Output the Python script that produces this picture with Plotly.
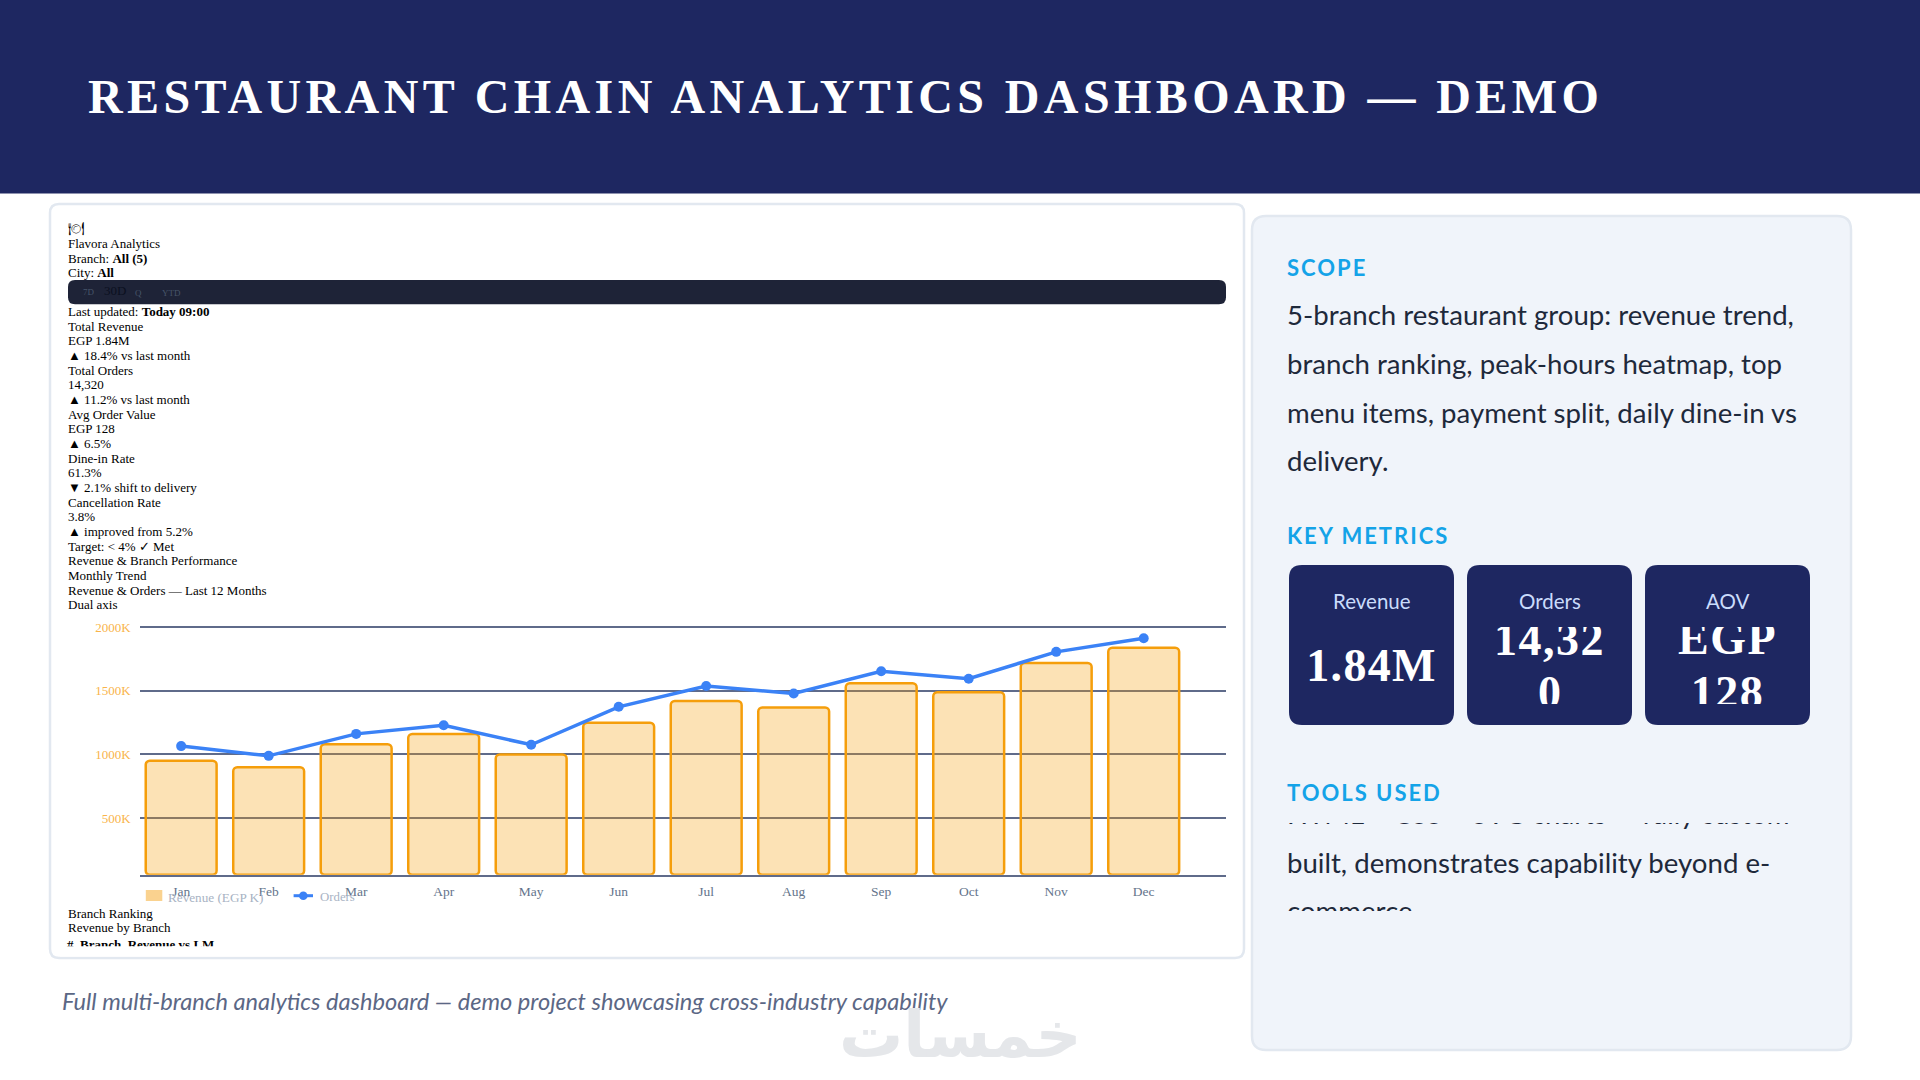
import plotly.graph_objects as go

# Data
months = ["Jan", "Feb", "Mar", "Apr", "May", "Jun", "Jul", "Aug", "Sep", "Oct", "Nov", "Dec"]
revenue_k = [950, 900, 1080, 1160, 1000, 1250, 1420, 1370, 1560, 1490, 1720, 1840]
orders = [7790, 7200, 8530, 9050, 7870, 10170, 11430, 10980, 12320, 11870, 13500, 14320]
revenue_ticks = [500, 1000, 1500, 2000]
revenue_tick_labels = ["500K", "1000K", "1500K", "2000K"]

title = "RESTAURANT CHAIN ANALYTICS DASHBOARD — DEMO"
caption = "Full multi-branch analytics dashboard — demo project showcasing cross-industry capability"
page_lines_top = ["🍽", "Flavora Analytics", "Branch: <b>All (5)</b>", "City: <b>All</b>"]
page_lines_mid = [
    "Last updated: <b>Today 09:00</b>", "Total Revenue", "EGP 1.84M", "▲ 18.4% vs last month",
    "Total Orders", "14,320", "▲ 11.2% vs last month", "Avg Order Value", "EGP 128", "▲ 6.5%",
    "Dine-in Rate", "61.3%", "▼ 2.1% shift to delivery", "Cancellation Rate", "3.8%",
    "▲ improved from 5.2%", "Target: &lt; 4% ✓ Met", "Revenue &amp; Branch Performance", "Monthly Trend",
    "Revenue &amp; Orders — Last 12 Months", "Dual axis",
]
scope_lines = [
    "5-branch restaurant group: revenue trend,",
    "branch ranking, peak-hours heatmap, top",
    "menu items, payment split, daily dine-in vs",
    "delivery.",
]
tools_lines = [
    "HTML + CSS + SVG charts — fully custom-",
    "built, demonstrates capability beyond e-",
    "commerce.",
]
metric_labels = ["Revenue", "Orders", "AOV"]

W, H = 1920, 1080
NAVY = "#1E2761"
PANEL = "#F0F4FA"
BORDER = "#E2E8F0"
SKY = "#14A3E8"
BODY = "#1E293B"
GRID = "#5F6B8A"
SERIF = "Liberation Serif"
SANS = "Lato"

# chart box in page pixels
CX0, CX1, CY0, CY1 = 139.6, 1225.7, 622.2, 874.7
AXIS_FLOOR = 54
AXIS_TOP = 2040
ORDERS_TOP = 14320 * 252.5 / 236.4


def px(x):
    return x / W


def py(y):
    return 1 - y / H


def rrect(x0, y0, x1, y1, r, fill, line=None, lw=0, layer="below"):
    a, b, c, d = px(x0), py(y0), px(x1), py(y1)
    rx, ry = r / W, r / H
    path = (f"M{a + rx},{b} L{c - rx},{b} Q{c},{b} {c},{b - ry} L{c},{d + ry} Q{c},{d} {c - rx},{d} "
            f"L{a + rx},{d} Q{a},{d} {a},{d + ry} L{a},{b - ry} Q{a},{b} {a + rx},{b} Z")
    return dict(type="path", path=path, xref="paper", yref="paper", fillcolor=fill, layer=layer,
                line=dict(color=line or fill, width=lw))


def mask(x0, y0, x1, y1, fill):
    return dict(type="rect", xref="paper", yref="paper", x0=px(x0), x1=px(x1), y0=py(y0), y1=py(y1),
                fillcolor=fill, line=dict(width=0), layer="above")


def label(x, y, text, size, color, family=SANS, anchor="left"):
    return dict(x=px(x), y=py(y), xref="paper", yref="paper", text=text, showarrow=False, xanchor=anchor,
                yanchor="middle", align=anchor, borderpad=0, font=dict(family=family, size=size, color=color))


fig = go.Figure()

fig.add_trace(go.Bar(
    x=months, y=[v - AXIS_FLOOR for v in revenue_k], base=AXIS_FLOOR, name="Revenue (EGP K)",
    marker=dict(color="rgba(245,158,11,0.3)", line=dict(color="#F59E0B", width=2.5), cornerradius=4),
    cliponaxis=False, showlegend=False,
))
fig.add_trace(go.Scatter(
    x=months, y=orders, yaxis="y2", name="Orders", mode="lines+markers", showlegend=False,
    line=dict(color="#3B82F6", width=3.5), marker=dict(color="#3B82F6", size=10),
))

# text that is cut off by its box in the original: drawn as traces so the masks can sit over it
metric_values = [
    (1549.5, 643, "14,32"),
    (1549.5, 696.5, "0"),
    (1727.5, 642.5, "EGP"),
    (1727.5, 696.5, "128"),
    (1371.5, 669.5, "1.84M"),
]
for x, y, t in metric_values:
    fig.add_trace(go.Scatter(
        x=[x], y=[y], text=[f"<b>{t}</b>"], mode="text", xaxis="x2", yaxis="y3", showlegend=False,
        textfont=dict(size=46, color="white", family=SERIF), cliponaxis=False,
    ))
for line, y in zip(tools_lines, [817.5, 866, 914.5]):
    fig.add_trace(go.Scatter(
        x=[1287], y=[y], text=[line], mode="text", textposition="middle right",
        xaxis="x2", yaxis="y3", showlegend=False, cliponaxis=False,
        textfont=dict(size=27.6, color=BODY, family=SANS),
    ))
fig.add_trace(go.Scatter(
    x=[67], y=[945.5], text=["<b>#  Branch  Revenue vs LM</b>"], mode="text", textposition="middle right",
    xaxis="x2", yaxis="y3", showlegend=False, cliponaxis=False,
    textfont=dict(size=13, color="black", family=SERIF),
))

shapes = [
    dict(type="rect", xref="paper", yref="paper", x0=0, x1=1, y0=py(193.5), y1=1, fillcolor=NAVY,
         line=dict(width=0), layer="below"),
    rrect(50, 204, 1244, 958, 9, "white", BORDER, 2.5),
    rrect(1252, 216, 1851, 1050, 14, PANEL, BORDER, 2.5),
    rrect(68, 280, 1226, 304.3, 7, "#1E2337"),
    rrect(1289, 565, 1454, 725, 13, NAVY),
    rrect(1467, 565, 1632, 725, 13, NAVY),
    rrect(1645, 565, 1810, 725, 13, NAVY),
    mask(1480, 612, 1620, 627, NAVY),
    mask(1480, 704, 1620, 722, NAVY),
    mask(1658, 612, 1798, 627, NAVY),
    mask(1658, 704, 1798, 722, NAVY),
    mask(1270, 780, 1840, 823, PANEL),
    mask(1270, 911, 1840, 945, PANEL),
    mask(60, 946.3, 400, 956.5, "white"),
    # legend keys
    dict(type="rect", xref="paper", yref="paper", x0=px(145.8), x1=px(162.3), y0=py(901), y1=py(890),
         fillcolor="#FAD28F", line=dict(width=0), layer="above"),
    dict(type="line", xref="paper", yref="paper", x0=px(293.6), x1=px(313), y0=py(895.7), y1=py(895.7),
         line=dict(color="#3B82F6", width=3), layer="above"),
    dict(type="circle", xref="paper", yref="paper", x0=px(299), x1=px(307.6), y0=py(900), y1=py(891.4),
         fillcolor="#3B82F6", line=dict(width=0), layer="above"),
]

annotations = [
    label(87, 97, f"<b>{title}</b>", 48, "white", SERIF),
    label(61, 1001, f"<i>{caption}</i>", 23.6, "#5B6785"),
    label(960, 1035, "<b>خمسات</b>", 64, "#E5E7EA", "DejaVu Sans", "center"),
    label(1286, 268, "<b>SCOPE</b>", 22, SKY),
    label(1286, 535, "<b>KEY METRICS</b>", 22, SKY),
    label(1286, 792, "<b>TOOLS USED</b>", 22, SKY),
    label(82, 292, "7D", 9, "#475569", SERIF),
    label(103, 291, "30D", 13, "#0B1020", SERIF),
    label(134, 293, "Q", 9, "#475569", SERIF),
    label(161, 293, "YTD", 9, "#475569", SERIF),
    label(67, 913.3, "Branch Ranking", 13, "black", SERIF),
    label(67, 927.8, "Revenue by Branch", 13, "black", SERIF),
    label(167, 897, "Revenue (EGP K)", 13.2, "#A8B3C4", SERIF),
    label(319, 897, "Orders", 12.8, "#A8B3C4", SERIF),
]
for i, line in enumerate(page_lines_top):
    annotations.append(label(67, 228.7 + 14.67 * i, line, 13, "black", SERIF))
for i, line in enumerate(page_lines_mid):
    annotations.append(label(67, 311.4 + 14.67 * i, line, 13, "black", SERIF))
for i, line in enumerate(scope_lines):
    annotations.append(label(1286, 314 + 49 * i, line, 27.6, BODY))
for cx, name in zip([1371.5, 1549.5, 1727.5], metric_labels):
    annotations.append(label(cx, 600.5, name, 20.5, "#CADCFC", SANS, "center"))

fig.update_layout(
    width=W, height=H, margin=dict(l=0, r=0, t=0, b=0, autoexpand=False), autosize=False,
    paper_bgcolor="white", plot_bgcolor="rgba(0,0,0,0)", bargap=0.19, showlegend=False,
    font=dict(family=SERIF),
    xaxis=dict(
        domain=[px(CX0), px(CX1)], anchor="y", type="category", range=[-0.475, 11.937], showgrid=False,
        showline=True, linecolor=GRID, linewidth=2, ticks="", ticklabelstandoff=3,
        tickfont=dict(size=13.5, color="#64748B", family=SERIF), zeroline=False,
    ),
    yaxis=dict(
        domain=[py(CY1), py(CY0)], anchor="x", range=[AXIS_FLOOR, AXIS_TOP], tickvals=revenue_ticks,
        ticktext=revenue_tick_labels, showgrid=True, gridcolor=GRID, gridwidth=2, zeroline=False,
        showline=False, ticks="", ticklabelstandoff=8, tickfont=dict(size=13, color="#F9B44A", family=SERIF),
    ),
    yaxis2=dict(
        domain=[py(CY1), py(CY0)], anchor="x", overlaying="y", side="right", range=[0, ORDERS_TOP],
        visible=False, showgrid=False,
    ),
    xaxis2=dict(domain=[0, 1], anchor="y3", range=[0, W], visible=False, fixedrange=True),
    yaxis3=dict(domain=[0, 1], anchor="x2", range=[H, 0], visible=False, fixedrange=True),
    shapes=shapes,
    annotations=annotations,
)

# page margin and the letter-spacing of the original (plotly has no attribute for it)
spacing_js = """
document.body.style.margin = '0';
document.body.style.overflow = 'hidden';
var spaced = {'RESTAURANT CHAIN': '4.4px', 'SCOPE': '2px', 'KEY METRICS': '2px', 'TOOLS USED': '2px',
              '1.84M': '1.3px', '14,32': '1.5px', 'EGP': '1.5px', '128': '1.5px'};
document.querySelectorAll('.annotation-text, .textpoint text').forEach(function (el) {
  Object.keys(spaced).forEach(function (k) {
    if (el.textContent === k || (k === 'RESTAURANT CHAIN' && el.textContent.indexOf(k) === 0)) {
      el.style.letterSpacing = spaced[k];
    }
  });
});
"""
fig.write_html("out.html", config={"displayModeBar": False}, post_script=spacing_js)
